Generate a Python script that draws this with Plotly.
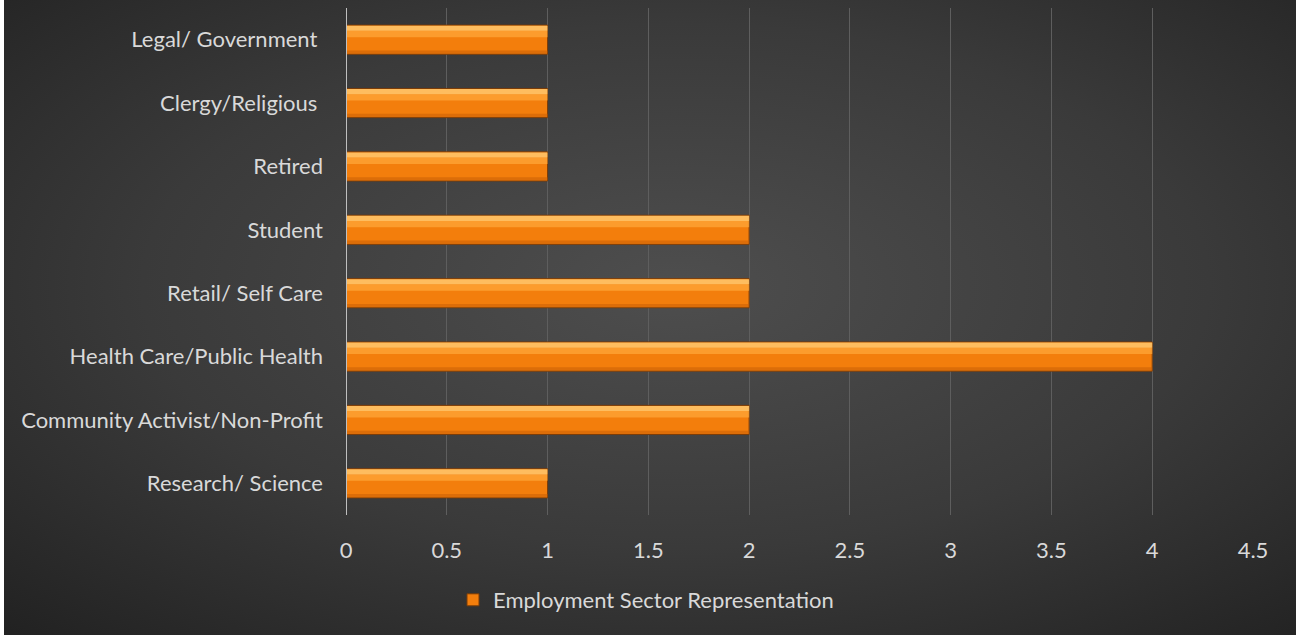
import base64
import plotly.graph_objects as go

categories = ["Research/ Science", "Community Activist/Non-Profit", "Health Care/Public Health",
              "Retail/ Self Care", "Student", "Retired", "Clergy/Religious ", "Legal/ Government "]
values = [1, 2, 4, 2, 2, 1, 1, 1]
series_name = "Employment Sector Representation"
x_ticks = [0, 0.5, 1, 1.5, 2, 2.5, 3, 3.5, 4, 4.5]

W, H = 1296, 635
L, R, T, B = 346, 43, 8, 120
pw, ph = W - L - R, H - T - B

svg = """<svg xmlns='http://www.w3.org/2000/svg' width='1292' height='635' viewBox='0 0 1292 635' preserveAspectRatio='none'>
<defs><radialGradient id='g' cx='52%' cy='45%' r='75%'>
<stop offset='0%' stop-color='#4e4e4e'/><stop offset='55%' stop-color='#3a3a3a'/><stop offset='100%' stop-color='#222222'/>
</radialGradient></defs><rect width='1292' height='635' fill='url(#g)'/></svg>"""
src = "data:image/svg+xml;base64," + base64.b64encode(svg.encode()).decode()

fig = go.Figure()
fig.add_trace(go.Bar(
    y=categories, x=values, orientation="h", name=series_name,
    width=0.46, offset=-0.23,
    marker=dict(color="#f37e0c", line=dict(color="#7a3c08", width=1)),
))
fig.add_trace(go.Bar(
    y=categories, x=values, orientation="h", showlegend=False, hoverinfo="skip",
    width=0.10, offset=0.04,
    marker=dict(color="rgba(255,170,60,0.7)", line=dict(width=0)),
))
fig.add_trace(go.Bar(
    y=categories, x=values, orientation="h", showlegend=False, hoverinfo="skip",
    width=0.08, offset=0.14,
    marker=dict(color="rgba(255,200,110,0.85)", line=dict(width=0)),
))
fig.add_trace(go.Bar(
    y=categories, x=values, orientation="h", showlegend=False, hoverinfo="skip",
    width=0.05, offset=-0.22,
    marker=dict(color="rgba(200,95,5,0.55)", line=dict(width=0)),
))

fig.update_layout(
    width=W, height=H,
    margin=dict(l=L, r=R, t=T, b=B),
    paper_bgcolor="white",
    plot_bgcolor="rgba(0,0,0,0)",
    barmode="overlay",
    font=dict(family="Lato, Carlito, sans-serif", size=22, color="#d9d9d9"),
    images=[dict(source=src, xref="paper", yref="paper",
                 x=-(L - 4) / pw, y=1 + T / ph, sizex=(W - 4) / pw, sizey=H / ph,
                 xanchor="left", yanchor="top", sizing="stretch", layer="below")],
    xaxis=dict(range=[0, 4.5], tickvals=x_ticks, ticktext=[f"{v:g}" for v in x_ticks],
               showgrid=True, gridcolor="#5e5e5e", gridwidth=1, zeroline=False,
               showline=False, ticks="", ticklabelstandoff=20,
               tickfont=dict(size=22, color="#d9d9d9")),
    yaxis=dict(categoryorder="array", categoryarray=categories,
               showgrid=False, zeroline=False, showline=False, ticks="",
               ticklabelstandoff=22, tickfont=dict(size=22, color="#d9d9d9")),
    legend=dict(orientation="h", x=(646 - L) / pw, xanchor="center",
                y=-(600 - (T + ph)) / ph, yanchor="middle", itemwidth=30,
                font=dict(size=22, color="#d9d9d9"), bgcolor="rgba(0,0,0,0)"),
    showlegend=True,
)
fig.add_vline(x=0, line=dict(color="#bfbfbf", width=2), layer="above")

fig.write_html("out.html")
